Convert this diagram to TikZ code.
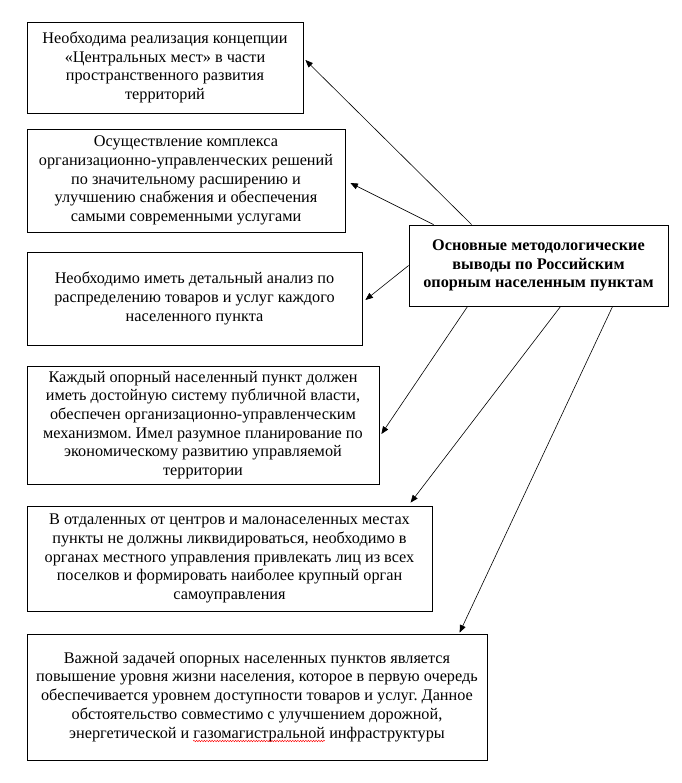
\documentclass[tikz,border=0pt]{standalone}
\usepackage{fontspec}
\setmainfont{Liberation Serif}
\usetikzlibrary{arrows.meta,decorations.pathmorphing}
\frenchspacing
\newsavebox\wavebox
\newcommand\redwave[1]{\sbox\wavebox{#1}\usebox\wavebox\llap{\raisebox{-3pt}{\tikz[baseline=0pt]\draw[red, line width=0.45pt, decorate, decoration={snake, amplitude=0.7pt, segment length=2.6pt}] (0pt,0pt) -- (\wd\wavebox,0pt);}}}
\tikzset{
  box/.style={draw, line width=0.8pt, align=center, inner sep=0pt,
    font=\fontsize{16.25}{18.7}\selectfont},
  mainbox/.style={box, font=\fontsize{16.25}{18.7}\selectfont\bfseries},
  conn/.style={line width=0.6pt, -{Triangle[length=7.5pt,width=6pt]}}
}
\begin{document}
\begin{tikzpicture}[x=1pt,y=-1pt]
\useasboundingbox (0,0) rectangle (681,783);
\node[box, minimum width=276pt, minimum height=91pt] (b1) at (165,67.5)
  {Необходима реализация концепции\\«Центральных мест» в части\\пространственного развития\\территорий};
\node[box, minimum width=318pt, minimum height=103pt] (b2) at (186,180.5)
  {Осуществление комплекса\\организационно-управленческих решений\\по значительному расширению и\\улучшению снабжения и обеспечения\\самыми современными услугами};
\node[box, minimum width=335pt, minimum height=93pt] (b3) at (194.5,298.5)
  {Необходимо иметь детальный анализ по\\распределению товаров и услуг каждого\\населенного пункта};
\node[box, minimum width=352pt, minimum height=118pt] (b4) at (203,425)
  {Каждый опорный населенный пункт должен\\иметь достойную систему публичной власти,\\обеспечен организационно-управленческим\\механизмом. Имел разумное планирование по\\экономическому развитию управляемой\\территории};
\node[box, minimum width=405pt, minimum height=105pt] (b5) at (229.5,558.5)
  {В отдаленных от центров и малонаселенных местах\\пункты не должны ликвидироваться, необходимо в\\органах местного управления привлекать лиц из всех\\поселков и формировать наиболее крупный орган\\самоуправления};
\node[box, minimum width=460pt, minimum height=126pt] (b6) at (257,697)
  {Важной задачей опорных населенных пунктов является\\повышение уровня жизни населения, которое в первую очередь\\обеспечивается уровнем доступности товаров и услуг. Данное\\обстоятельство совместимо с улучшением дорожной,\\энергетической и \redwave{газомагистральной} инфраструктуры};
\node[mainbox, minimum width=259pt, minimum height=81pt] (m) at (538.5,265.5)
  {Основные методологические\\выводы по Российским\\опорным населенным пунктам};
\draw[conn] ([xshift=63pt]m.north west) -- ([xshift=2pt,yshift=7.5pt]b1.east);
\draw[conn] ([xshift=25pt]m.north west) -- ([xshift=5pt,yshift=-2.5pt]b2.east);
\draw[conn] (m.west) -- ([xshift=3pt,yshift=-1.5pt]b3.east);
\draw[conn] ([xshift=59pt]m.south west) -- ([xshift=2pt,yshift=-9pt]b4.east);
\draw[conn] ([xshift=152pt]m.south west) -- ([xshift=384pt,yshift=3pt]b5.north west);
\draw[conn] ([xshift=204pt]m.south west) -- ([xshift=433pt,yshift=1pt]b6.north west);
\end{tikzpicture}
\end{document}
